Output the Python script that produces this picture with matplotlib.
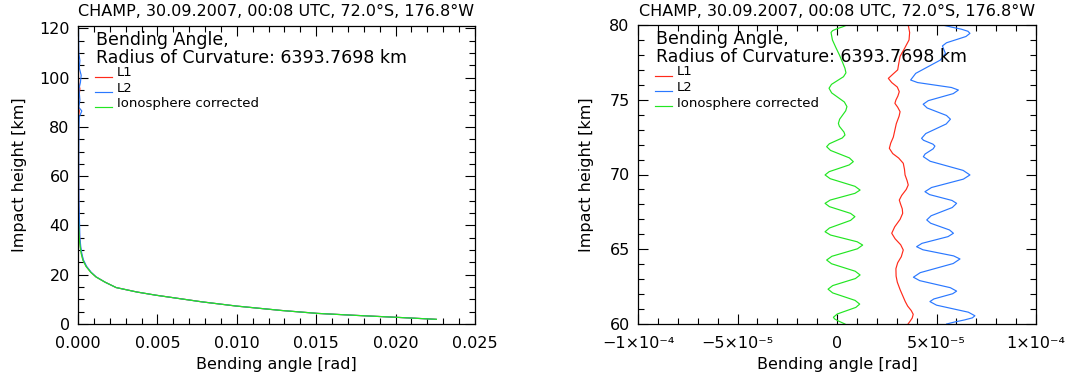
import numpy as np
import matplotlib
matplotlib.use("Agg")
import matplotlib.pyplot as plt
from matplotlib.ticker import MultipleLocator, FormatStrFormatter, FixedLocator, FixedFormatter

# Kopfzeile / Metadaten
title_text = "CHAMP, 30.09.2007, 00:08 UTC, 72.0°S, 176.8°W"
radius_text = "Radius of Curvature: 6393.7698 km"
legend_labels = ["L1", "L2", "Ionosphere corrected"]

# Linkes Panel: komplettes Profil (Höhe in km, Knickwinkel in rad)
h_full = [1.9, 2.7, 3.5, 4.3, 5.5, 7.3, 9.0, 11.7, 13.0, 14.8,
          17.0, 19.1, 21.0, 23.4, 26.0, 28.6, 31.0, 35.0, 40.0, 45.0,
          50.0, 60.0, 70.0, 80.0, 84.0, 86.5, 88.0, 91.0, 95.5, 98.0,
          101.0, 104.0, 107.0, 110.0, 115.0, 120.0]
alpha_corr_full = [0.02257, 0.0201, 0.0175, 0.0151, 0.0128, 0.00995, 0.0078, 0.0049, 0.0037, 0.0024,
                   0.0017, 0.00113, 0.0008, 0.0005, 0.0003, 0.0002, 0.00014, 0.00008, 0.00004, 0.00002,
                   0.00001, 0.000003, 0.0, 0.000003, 0.0, -0.000005, 0.0, 0.000004, 0.0, 0.000005,
                   0.0, -0.000003, 0.0, 0.000003, 0.0, 0.0]
alpha_l1_full = [0.02256, 0.0201, 0.0175, 0.0151, 0.0128, 0.00995, 0.0078, 0.0049, 0.0037, 0.0024,
                 0.0017, 0.00114, 0.00081, 0.00052, 0.00032, 0.00022, 0.00016, 0.0001, 0.00007, 0.00005,
                 0.00004, 0.000035, 0.00003, 0.000035, 0.00003, 0.00008, 0.00003, 0.00004, 0.00012, 0.00004,
                 0.00003, 0.00004, 0.00003, 0.00003, 0.00002, 0.00002]
alpha_l2_full = [0.02255, 0.0201, 0.0175, 0.0151, 0.0128, 0.00996, 0.0078, 0.0049, 0.0037, 0.0024,
                 0.0017, 0.00115, 0.00083, 0.00054, 0.00034, 0.00024, 0.00018, 0.00012, 0.0001, 0.00008,
                 0.00006, 0.00005, 0.00005, 0.00006, 0.00008, 0.00024, 0.00005, 0.00012, 0.00006, 0.00015,
                 0.0002, 0.00008, 0.00012, 0.00005, 0.00004, 0.00003]

# Rechtes Panel: Ausschnitt 60-80 km, Werte in 1e-6 rad
h_l1 = [80.0, 79.5, 79.0, 78.4, 77.9, 77.4, 77.0, 76.7, 76.43, 76.15,
        75.85, 75.54, 75.25, 74.98, 74.76, 74.5, 74.2, 73.9, 73.4, 72.98,
        72.5, 72.1, 71.75, 71.4, 71.1, 70.75, 70.35, 69.97, 69.6, 69.3,
        69.0, 68.6, 68.29, 68.0, 67.7, 67.4, 67.0, 66.5, 66.07, 65.7,
        65.3, 64.95, 64.5, 64.1, 63.7, 63.2, 62.8, 62.3, 61.9, 61.5,
        61.2, 60.9, 60.65, 60.4, 60.2, 60.0]
l1_urad = [35.8, 36.5, 36.2, 33.8, 31.7, 31.0, 30.5, 28.0, 25.8, 27.5,
           30.3, 31.3, 30.6, 29.6, 29.1, 30.5, 31.7, 31.2, 29.8, 29.1,
           28.3, 27.0, 26.3, 28.0, 31.0, 33.3, 33.9, 34.2, 35.2, 35.8,
           34.8, 32.5, 31.3, 32.0, 32.8, 33.0, 31.7, 29.0, 27.5, 29.2,
           32.0, 33.3, 32.3, 30.5, 29.6, 29.7, 30.3, 31.7, 33.0, 34.3,
           35.5, 37.3, 38.3, 37.8, 36.8, 35.7]

h_l2 = [80.0, 79.86, 79.72, 79.58, 79.44, 79.23, 79.02, 78.81, 78.6, 78.35,
        78.1, 77.655, 77.21, 76.765, 76.32, 76.15, 75.985, 75.82, 75.65, 75.41,
        75.175, 74.94, 74.7, 74.45, 74.2, 73.95, 73.7, 73.38, 73.06, 72.74,
        72.42, 72.29, 72.16, 72.03, 71.9, 71.72, 71.545, 71.37, 71.19, 70.885,
        70.58, 70.275, 69.97, 69.69, 69.41, 69.13, 68.85, 68.655, 68.46, 68.265,
        68.07, 67.79, 67.515, 67.24, 66.96, 66.74, 66.515, 66.29, 66.07, 65.845,
        65.62, 65.395, 65.17, 64.965, 64.76, 64.555, 64.35, 64.045, 63.74, 63.435,
        63.13, 62.9, 62.665, 62.43, 62.2, 62.025, 61.85, 61.675, 61.5, 61.26,
        61.025, 60.79, 60.55, 60.41, 60.27, 60.13, 60.0]
l2_urad = [53.0, 57.5, 62.5, 65.8, 66.8, 64.79, 59.9, 55.01, 53.0, 53.7,
           54.5, 51.94, 45.75, 39.56, 37.0, 40.5, 49.0, 57.5, 61.0, 58.42,
           52.15, 45.88, 43.3, 45.3, 50.15, 55.0, 57.0, 54.88, 49.75, 44.62,
           42.5, 43.48, 45.85, 48.22, 49.2, 48.35, 46.3, 44.25, 43.4, 46.82,
           55.1, 63.38, 66.8, 63.5, 55.5, 47.5, 44.2, 46.52, 52.15, 57.78,
           60.1, 57.91, 52.6, 47.29, 45.1, 47.06, 51.8, 56.54, 58.5, 55.8,
           49.25, 42.7, 40.0, 43.18, 50.9, 58.62, 61.8, 58.38, 50.1, 41.82,
           38.4, 41.57, 49.25, 56.93, 60.1, 58.14, 53.4, 48.66, 46.7, 50.0,
           58.0, 66.0, 69.3, 68.0, 64.0, 59.0, 55.1]

h_corr = [80.0, 79.875, 79.75, 79.625, 79.5, 79.0, 78.5, 78.0, 77.5, 77.1,
          76.8, 76.54, 76.285, 76.03, 75.77, 75.46, 75.155, 74.85, 74.54, 74.26,
          73.98, 73.7, 73.42, 73.225, 73.03, 72.835, 72.64, 72.445, 72.25, 72.055,
          71.86, 71.61, 71.36, 71.11, 70.86, 70.64, 70.415, 70.19, 69.97, 69.72,
          69.465, 69.21, 68.96, 68.74, 68.515, 68.29, 68.07, 67.85, 67.625, 67.4,
          67.18, 66.93, 66.675, 66.42, 66.17, 65.95, 65.725, 65.5, 65.28, 65.03,
          64.78, 64.53, 64.28, 64.03, 63.78, 63.53, 63.28, 63.04, 62.805, 62.57,
          62.33, 62.08, 61.83, 61.58, 61.33, 61.11, 60.89, 60.67, 60.45, 60.34,
          60.22, 60.11, 60.0]
corr_urad = [5.0, 2.8, 0.0, -2.2, -3.0, -2.3, -0.6, 1.2, 2.8, 4.0,
             4.5, 3.26, 0.25, -2.76, -4.0, -2.69, 0.5, 3.69, 5.0, 4.37,
             2.85, 1.33, 0.7, 1.18, 2.35, 3.52, 4.0, 2.66, -0.6, -3.86,
             -5.2, -3.24, 1.5, 6.24, 8.2, 6.13, 1.1, -3.93, -6.0, -3.43,
             2.8, 9.03, 11.6, 9.03, 2.8, -3.43, -6.0, -3.81, 1.5, 6.81,
             9.0, 6.81, 1.5, -3.81, -6.0, -3.24, 3.45, 10.14, 12.9, 10.26,
             3.85, -2.56, -5.2, -2.75, 3.2, 9.15, 11.6, 9.25, 3.55, -2.15,
             -4.5, -2.18, 3.45, 9.08, 11.4, 9.47, 4.8, 0.13, -1.8, -1.2,
             0.4, 2.2, 4.0]

right_xticks = [-1e-4, -5e-5, 0.0, 5e-5, 1e-4]
right_xticklabels = ["\u22121\u00d710\u207b\u2074", "\u22125\u00d710\u207b\u2075", "0",
                     "5\u00d710\u207b\u2075", "1\u00d710\u207b\u2074"]

# Farben wie im IDL-Plot
c_l1 = "#ff2a1a"
c_l2 = "#2a78ff"
c_corr = "#22e622"
LW = 0.85

W, H = 1070, 383


def style_axes(ax):
    ax.tick_params(which="both", direction="in", top=True, right=True, colors="black", labelsize=11.5)
    ax.tick_params(which="major", length=7, width=0.8)
    ax.tick_params(which="minor", length=4, width=0.8)
    ax.tick_params(axis="x", pad=9)
    ax.tick_params(axis="y", pad=6)
    for s in ax.spines.values():
        s.set_linewidth(0.9)


def add_legend(ax):
    # Legende im IDL-Stil, Pixel-Offsets relativ zur linken oberen Ecke der Achse
    def fx(dx):
        return dx / 397.0

    def fy(dy):
        return 1 - dy / 298.0

    ax.text(fx(18), fy(14), "Bending Angle,", transform=ax.transAxes, fontsize=12.5, va="center", ha="left")
    ax.text(fx(18), fy(32), radius_text, transform=ax.transAxes, fontsize=12.5, va="center", ha="left")
    for lab, col, ly, ty in zip(legend_labels, [c_l1, c_l2, c_corr], [51, 66, 81], [46, 62, 78]):
        ax.plot([fx(17), fx(34)], [fy(ly), fy(ly)], color=col, lw=LW, transform=ax.transAxes)
        ax.text(fx(39), fy(ty), lab, transform=ax.transAxes, fontsize=9.5, va="center", ha="left")


fig = plt.figure(figsize=(W / 100, H / 100), dpi=100)
plt.rcParams["font.family"] = ["DejaVu Sans"]

ax1 = fig.add_axes([78 / W, 1 - 324 / H, 397 / W, 298 / H])
ax2 = fig.add_axes([638 / W, 1 - 324 / H, 398 / W, 299 / H])

# --- linkes Panel
ax1.plot(alpha_l1_full, h_full, color=c_l1, lw=LW)
ax1.plot(alpha_l2_full, h_full, color=c_l2, lw=LW)
ax1.plot(alpha_corr_full, h_full, color=c_corr, lw=LW)
ax1.set_xlim(0, 0.025)
ax1.set_ylim(0, 121)
ax1.xaxis.set_major_locator(MultipleLocator(0.005))
ax1.xaxis.set_minor_locator(MultipleLocator(0.001))
ax1.xaxis.set_major_formatter(FormatStrFormatter("%.3f"))
ax1.yaxis.set_major_locator(MultipleLocator(20))
ax1.yaxis.set_minor_locator(MultipleLocator(5))
style_axes(ax1)
add_legend(ax1)

# --- rechtes Panel (Zoom)
ax2.plot(np.array(l1_urad) * 1e-6, h_l1, color=c_l1, lw=LW)
ax2.plot(np.array(l2_urad) * 1e-6, h_l2, color=c_l2, lw=LW)
ax2.plot(np.array(corr_urad) * 1e-6, h_corr, color=c_corr, lw=LW)
ax2.set_xlim(-1e-4, 1e-4)
ax2.set_ylim(60, 80)
ax2.xaxis.set_major_locator(FixedLocator(right_xticks))
ax2.xaxis.set_major_formatter(FixedFormatter(right_xticklabels))
ax2.xaxis.set_minor_locator(MultipleLocator(1e-5))
ax2.yaxis.set_major_locator(MultipleLocator(5))
ax2.yaxis.set_minor_locator(MultipleLocator(1))
style_axes(ax2)
add_legend(ax2)

# Titel und Achsenbeschriftungen
for ax, cx, ylx in [(ax1, 276, 20), (ax2, 837, 587)]:
    fig.text(cx / W, 1 - 11 / H, title_text, ha="center", va="center", fontsize=11.5)
    fig.text(cx / W, 1 - 365 / H, "Bending angle [rad]", ha="center", va="center", fontsize=11.5)
    fig.text(ylx / W, 1 - 175 / H, "Impact height [km]", ha="center", va="center", rotation=90, fontsize=11.5)

fig.savefig("out.png", dpi=100)
